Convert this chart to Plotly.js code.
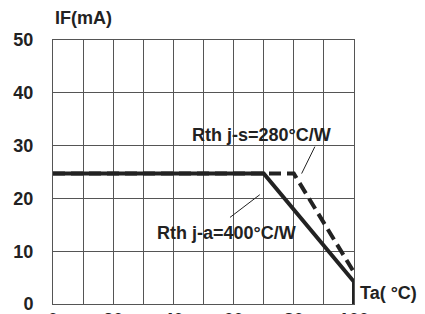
<!DOCTYPE html>
<html>
<head>
<meta charset="utf-8">
<script src="https://cdn.plot.ly/plotly-3.0.1.min.js"></script>
<style>html,body{margin:0;padding:0;background:#fff;overflow:hidden}#chart{width:425px;height:314px}</style>
</head>
<body>
<div id="chart"></div>
<script>
// Derating curves
const solidX = [0, 70, 100, 100];
const solidY = [24.7, 24.7, 4.2, 0];
const dashX = [0, 80, 100];
const dashY = [24.7, 24.7, 6.0];

const xTickVals = [0, 10, 20, 30, 40, 50, 60, 70, 80, 90, 100];
const xTickText = ['0', '', '20', '', '40', '', '60', '', '80', '', '100'];
const yTickVals = [0, 10, 20, 30, 40, 50];
const yTickText = ['0', '10', '20', '30', '40', '50'];

const labelJS = 'Rth j-s=280°C/W';
const labelJA = 'Rth j-a=400°C/W';
const xTitle = 'Ta( °C)';
const yTitle = 'IF(mA)';

const ink = '#222';
const gridCol = '#555';
const font = {family: 'Liberation Sans, Arial, sans-serif', size: 18, color: ink, weight: 'bold'};

const traces = [
  {x: dashX, y: dashY, mode: 'lines', line: {color: ink, width: 4, dash: '12px,6px'}, cliponaxis: false, hoverinfo: 'skip'},
  {x: solidX, y: solidY, mode: 'lines', line: {color: ink, width: 4}, cliponaxis: false, hoverinfo: 'skip'}
];

const layout = {
  width: 425, height: 314,
  margin: {l: 53, r: 71, t: 40, b: 10, pad: 0},
  paper_bgcolor: '#fff', plot_bgcolor: '#fff',
  showlegend: false,
  font: font,
  xaxis: {
    range: [0, 100], tickvals: xTickVals, ticktext: xTickText,
    showgrid: true, gridcolor: gridCol, gridwidth: 1,
    showline: true, linecolor: gridCol, linewidth: 1, mirror: true,
    zeroline: false, ticks: '', tickfont: font, ticklabelstandoff: -1,
    ticklabeloverflow: 'allow', automargin: false,
    fixedrange: true
  },
  yaxis: {
    range: [0, 50], tickvals: yTickVals, ticktext: yTickText,
    showgrid: true, gridcolor: gridCol, gridwidth: 1,
    showline: true, linecolor: gridCol, linewidth: 1, mirror: true,
    zeroline: false, ticks: '', tickfont: font, ticklabelstandoff: 15,
    ticklabeloverflow: 'allow', automargin: false,
    fixedrange: true
  },
  annotations: [
    {text: labelJS, x: 69.3, y: 32.1, xref: 'x', yref: 'y', showarrow: false, font: font, xanchor: 'center', yanchor: 'middle'},
    {text: labelJA, x: 57.6, y: 13.4, xref: 'x', yref: 'y', showarrow: false, font: font, xanchor: 'center', yanchor: 'middle'},
    {text: xTitle, x: 1.012, y: 0.04, xref: 'paper', yref: 'paper', showarrow: false, font: font, xanchor: 'left', yanchor: 'middle'},
    {text: yTitle, x: 0, y: 1.085, xref: 'paper', yref: 'paper', showarrow: false, font: font, xanchor: 'left', yanchor: 'middle'}
  ],
  shapes: [
    {type: 'line', xref: 'x', yref: 'y', x0: 82.6, y0: 24.7, x1: 87.0, y1: 29.8, line: {color: ink, width: 1}},
    {type: 'line', xref: 'x', yref: 'y', x0: 58.8, y0: 16.4, x1: 68.7, y1: 20.7, line: {color: ink, width: 1}}
  ]
};

Plotly.newPlot('chart', traces, layout, {staticPlot: true, displayModeBar: false});
</script>
</body>
</html>
